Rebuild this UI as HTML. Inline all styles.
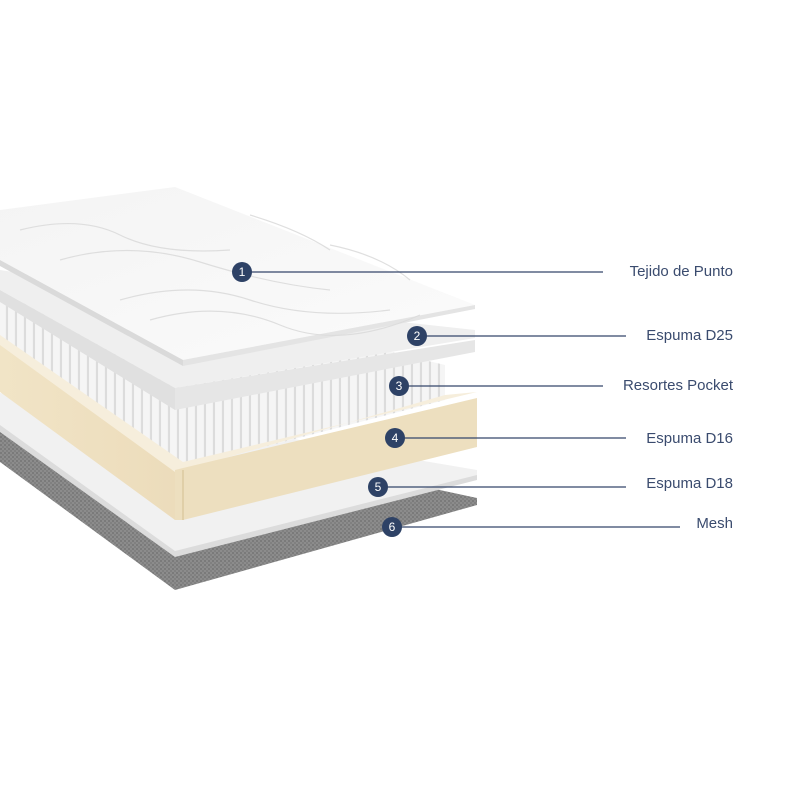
<!DOCTYPE html>
<html><head><meta charset="utf-8"><style>
html,body{margin:0;padding:0;background:#fff;}
svg{display:block}
text{font-family:"Liberation Sans",sans-serif;}
</style></head><body>
<svg width="800" height="800" viewBox="0 0 800 800" xmlns="http://www.w3.org/2000/svg">
<defs>
<pattern id="mesh" width="4" height="4" patternUnits="userSpaceOnUse">
<rect width="4" height="4" fill="#8c8c8c"/><rect width="2" height="2" fill="#7a7a7a"/><rect x="2" y="2" width="2" height="2" fill="#808080"/>
</pattern>
<pattern id="spr" width="9" height="8" patternUnits="userSpaceOnUse" patternTransform="skewY(24)">
<rect width="9" height="8" fill="#f5f5f5"/><rect x="6" width="2" height="8" fill="#dadada"/>
</pattern>
<linearGradient id="beige" x1="0" y1="0" x2="1" y2="0"><stop offset="0" stop-color="#f1e4c6"/><stop offset="1" stop-color="#ecdcbb"/></linearGradient>
<linearGradient id="top" x1="0" y1="0" x2="1" y2="1"><stop offset="0" stop-color="#f4f4f4"/><stop offset="1" stop-color="#fbfbfb"/></linearGradient>
</defs>
<!-- Mesh -->
<polygon points="0,430 0,462 175,590 477,505 477,498 300,460" fill="url(#mesh)"/>
<!-- Layer 5 white -->
<polygon points="0,393 0,430 175,553 477,478 477,470 300,440" fill="#f1f1f1"/>
<polygon points="0,425 0,432 175,557 477,480 477,475 175,551" fill="#dcdcdc"/>
<!-- Springs -->
<polygon points="0,300 0,342 175,470 445,400 445,365 300,330" fill="url(#spr)"/>
<!-- Beige frame -->
<polygon points="0,340 0,392 175,520 175,470" fill="url(#beige)"/>
<polygon points="0,335 0,345 175,472 183,470 445,395 477,392 183,462" fill="#f6eedc"/>
<polygon points="175,470 183,468 477,398 477,447 183,520 175,520" fill="#eddfbf"/>
<line x1="183" y1="470" x2="183" y2="520" stroke="#e0cfa8" stroke-width="2"/>
<!-- Layer 2 foam -->
<polygon points="0,270 0,290 175,388 475,338 475,330 200,300" fill="#efefef"/>
<polygon points="0,290 0,302 175,410 175,388" fill="#e0e0e0"/>
<polygon points="175,388 475,340 475,352 175,410" fill="#e6e6e6"/>
<!-- Topper -->
<polygon points="0,210 175,187 475,305 183,360 0,260" fill="url(#top)"/>
<polygon points="0,260 183,360 183,366 0,266" fill="#dadada"/>
<polygon points="183,360 475,305 475,309 183,366" fill="#e4e4e4"/>
<g stroke="#dcdcdc" stroke-width="1.2" fill="none" opacity="0.9">
<path d="M20,230 Q80,215 120,235 T230,250"/><path d="M60,260 Q130,240 200,262 T330,290"/>
<path d="M120,300 Q190,280 250,300 T390,310"/><path d="M150,320 Q220,300 280,325 T420,315"/>
<path d="M250,215 Q300,230 330,250"/><path d="M330,245 Q380,255 410,280"/>
</g>
<!-- callouts -->
<g stroke="#34466a" stroke-width="1.2">
<line x1="242" y1="272" x2="603" y2="272"/>
<line x1="417" y1="336" x2="626" y2="336"/>
<line x1="399" y1="386" x2="603" y2="386"/>
<line x1="395" y1="438" x2="626" y2="438"/>
<line x1="378" y1="487" x2="626" y2="487"/>
<line x1="392" y1="527" x2="680" y2="527"/>
</g>
<g fill="#2e4266">
<circle cx="242" cy="272" r="10"/><circle cx="417" cy="336" r="10"/><circle cx="399" cy="386" r="10"/>
<circle cx="395" cy="438" r="10"/><circle cx="378" cy="487" r="10"/><circle cx="392" cy="527" r="10"/>
</g>
<g fill="#fff" font-size="12" text-anchor="middle">
<text x="242" y="276">1</text><text x="417" y="340">2</text><text x="399" y="390">3</text>
<text x="395" y="442">4</text><text x="378" y="491">5</text><text x="392" y="531">6</text>
</g>
<g fill="#3a4b6e" font-size="15" text-anchor="end">
<text x="733" y="276">Tejido de Punto</text>
<text x="733" y="340">Espuma D25</text>
<text x="733" y="390">Resortes Pocket</text>
<text x="733" y="443">Espuma D16</text>
<text x="733" y="488">Espuma D18</text>
<text x="733" y="528">Mesh</text>
</g>
</svg>
</body></html>
